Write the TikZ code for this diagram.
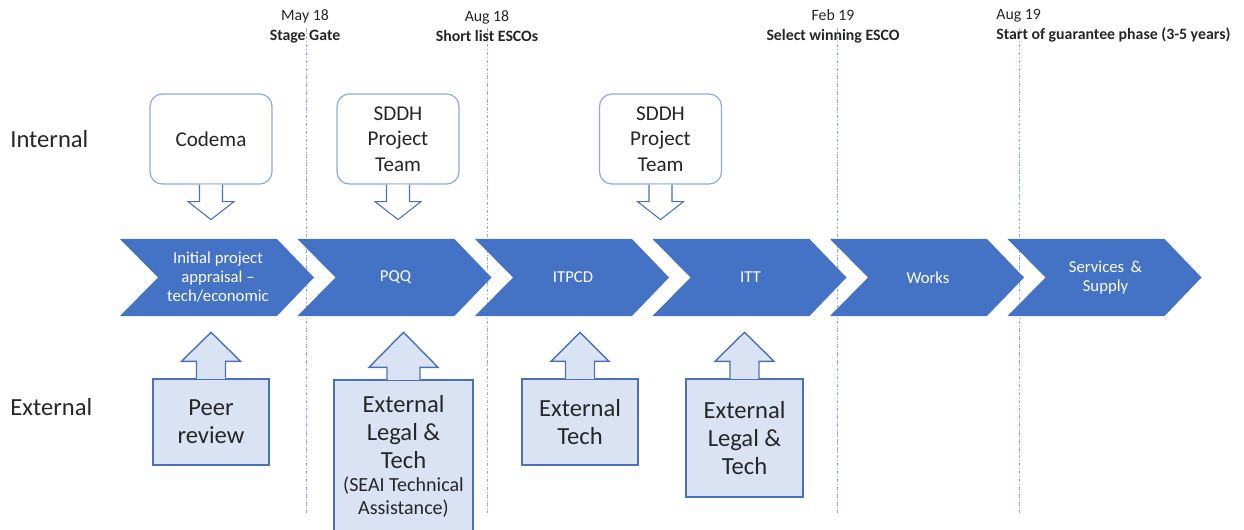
\documentclass[tikz,border=0pt]{standalone}
\usepackage{fontspec}
\setmainfont{Carlito}
\usetikzlibrary{positioning,calc}

\definecolor{phaseblue}{HTML}{4472C4}
\definecolor{gateblue}{HTML}{8FAADC}
\definecolor{intborder}{HTML}{8FAADC}
\definecolor{extborder}{HTML}{4A70B8}
\definecolor{extfill}{HTML}{DAE3F3}
\definecolor{textgray}{HTML}{262626}

\begin{document}
\begin{tikzpicture}[
        x=0.02cm, y=-0.02cm,
        gate/.style={draw=gateblue, line width=0.5pt,
                     dash pattern=on 2pt off 1pt on 0.5pt off 1pt},
        datelab/.style={align=center, inner sep=0pt, text=textgray,
                        font=\fontsize{9}{11.4}\selectfont},
        sidelab/.style={anchor=west, inner sep=0pt, text=textgray,
                        font=\fontsize{14}{16}\selectfont},
        phase/.style={align=center, inner sep=0pt, text=white,
                      font=\fontsize{9.5}{10.8}\selectfont},
        intbox/.style={draw=intborder, fill=white, line width=0.7pt,
                       rounded corners=7pt, align=center, text=textgray,
                       minimum width=2.44cm, minimum height=1.8cm,
                       font=\fontsize{12}{14.5}\selectfont},
        extbox/.style={draw=extborder, fill=extfill, line width=0.8pt,
                       align=center, inner sep=0pt, text=textgray,
                       font=\fontsize{14}{16}\selectfont},
        dnar/.style={draw=extborder, fill=white, line width=0.6pt},
        upar/.style={draw=extborder, fill=extfill, line width=0.8pt}
    ]
    \useasboundingbox (0,0) rectangle (1244,530);
    \clip (0,0) rectangle (1244,530);

    %% ---- milestones ----
    \foreach \x in {306,487,837,1019}
        \draw[gate] (\x,28) -- (\x,513);

    \node[datelab] (may) at (305,26) {May 18\\ \textbf{Stage Gate}};
    \node[datelab] (aug) at (487,26) {Aug 18\\ \textbf{Short list ESCOs}};
    \node[datelab] (feb) at (833,26) {Feb 19\\ \textbf{Select winning ESCO}};
    \node[datelab, anchor=west, align=left] (start) at (996,26)
        {Aug 19\\ \textbf{Start of guarantee phase (3-5 years)}};

    \node[sidelab] (internal) at (10,139) {Internal};
    \node[sidelab] (external) at (10,407) {External};

    %% ---- phases ----
    \foreach \i/\txt [count=\n from 0] in {
            init/{Initial project\\ appraisal --\\ tech/economic},
            pqq/PQQ, itpcd/ITPCD, itt/ITT, works/Works,
            serv/{Services \,\&\\ Supply}} {
        \pgfmathsetmacro{\l}{120+177.5*\n}
        \fill[phaseblue] (\l,239) -- ++(157,0) -- ++(37,38.5) -- ++(-37,38.5)
            -- ++(-157,0) -- ++(38,-38.5) -- cycle;
        \node[phase] (\i) at (\l+98,277.5) {\txt};
    }

    %% ---- internal inputs ----
    \node[intbox] (codema) at (211,139) {Codema};
    \node[intbox] (sddha)  at (398,139) {SDDH\\ Project\\ Team};
    \node[intbox] (sddhb)  at (660.5,139) {SDDH\\ Project\\ Team};

    \foreach \b in {codema,sddha,sddhb}
        \draw[dnar] ($(\b.south)+(-11.5,0)$) -- ++(0,17) -- ++(-11.5,0)
            -- ++(23,18) -- ++(23,-18) -- ++(-11.5,0) -- ++(0,-17);

    %% ---- external inputs ----
    \node[extbox, minimum width=2.32cm, minimum height=1.72cm]
        (peer) at (211,422) {Peer\\ review};
    \node[extbox, minimum width=2.78cm, minimum height=3.12cm]
        (legala) at (403.5,458) {External\\ Legal \&\\ Tech\\[4pt]
        {\fontsize{11.4}{12.7}\selectfont
         \begin{tabular}{@{}c@{}}(SEAI Technical\\ Assistance)\end{tabular}}};
    \node[extbox, minimum width=2.32cm, minimum height=1.72cm]
        (tech) at (580,422) {External\\ Tech};
    \node[extbox, minimum width=2.34cm, minimum height=2.36cm]
        (legalb) at (744.5,438) {External\\ Legal \&\\ Tech};

    \foreach \b/\s/\h/\bl/\tl in {peer/14.5/29.5/17/29, legala/16.5/34.5/12/35,
                                  tech/14.5/29/17/29, legalb/14.5/29.5/17/29} {
        \draw[upar] ($(\b.north)+(-\s,0)$) -- ++(0,-\bl) -- ++(\s-\h,0)
            -- ++(\h,-\tl) -- ++(\h,\tl) -- ++(\s-\h,0) -- ++(0,\bl);
        \fill[extfill] ($(\b.north)+(-\s+0.8,-1)$) rectangle ($(\b.north)+(\s-0.8,1)$);
    }
\end{tikzpicture}
\end{document}
